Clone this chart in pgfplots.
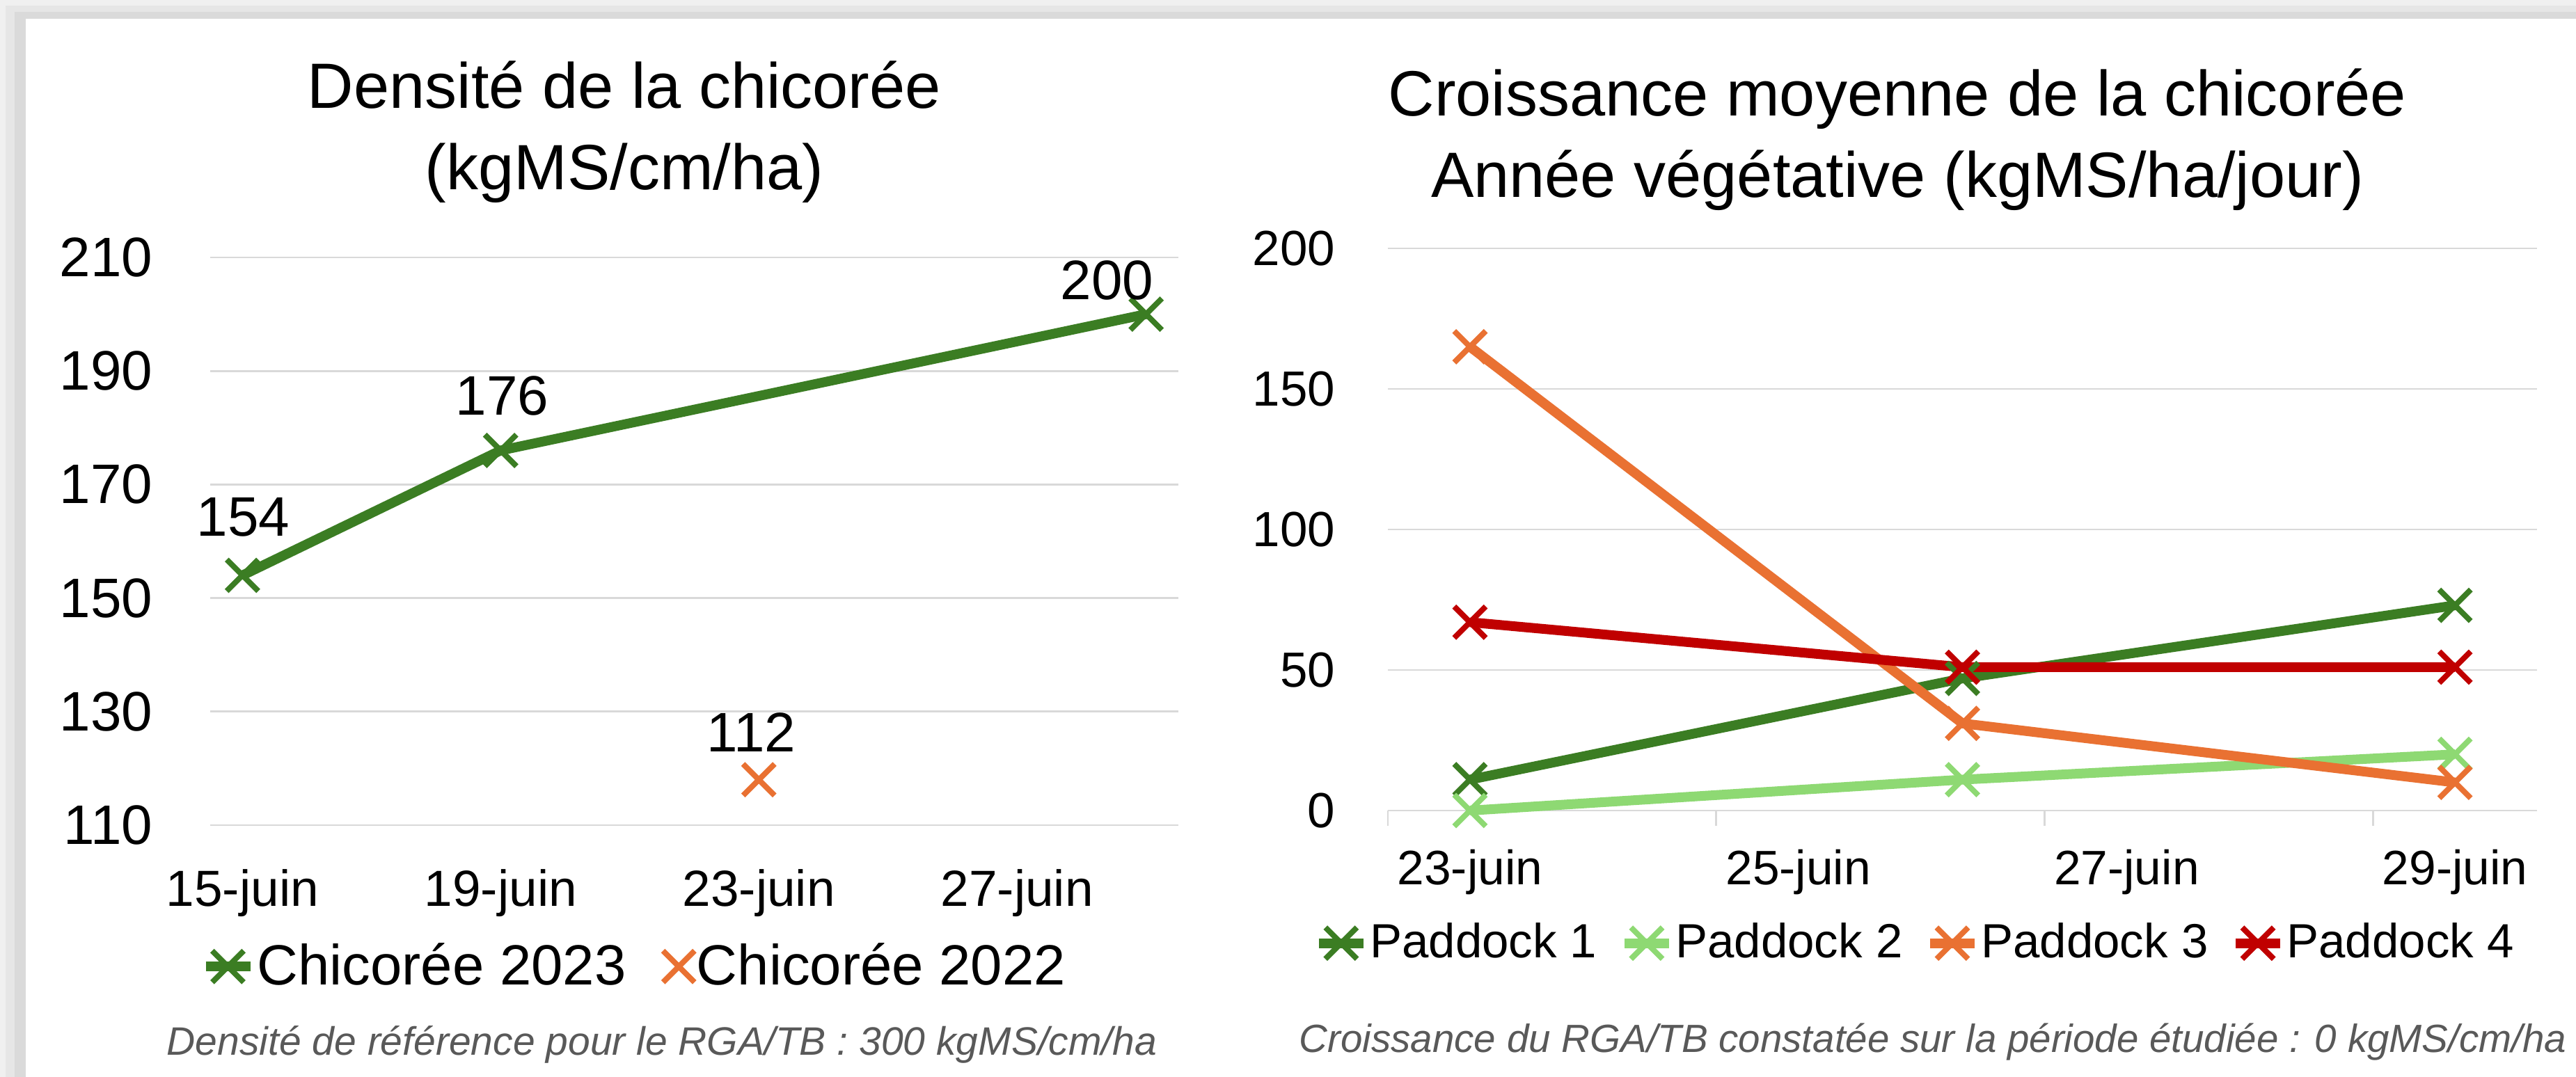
\documentclass[border=0pt]{standalone}
\usepackage{fontspec}
\setmainfont{Liberation Sans}
\usepackage{pgfplots}
\pgfplotsset{compat=1.18}
\definecolor{gA}{HTML}{3B7D23}
\definecolor{gB}{HTML}{8ED973}
\definecolor{orA}{HTML}{E97132}
\definecolor{rdA}{HTML}{C00000}
\definecolor{gridc}{HTML}{D9D9D9}
\definecolor{fnc}{HTML}{595959}
\definecolor{bgA}{HTML}{F0F0F0}
\definecolor{bgB}{HTML}{E6E6E6}
\definecolor{bgC}{HTML}{DADADA}
\pgfplotsset{
  myleg/.style={legend image code/.code={\draw[mark repeat=2,mark phase=2,##1] plot coordinates {(0pt,0pt) (6.4pt,0pt) (12.8pt,0pt)};}},
  common/.style={
    scale only axis, clip=false,
    axis line style={draw=none},
    ymajorgrids, major grid style={gridc, line width=0.55pt},
    major tick length=0pt, xtick pos=bottom, ytick pos=left,
    /pgf/number format/assume math mode=true,
    yticklabel style={anchor=east, inner sep=0pt},
    xticklabel style={anchor=base, inner sep=0pt},
    myleg,
  },
  ser/.style={color=#1, line width=2.8pt, line join=round, mark=x, mark size=6.4pt, mark options={line width=1.6pt, solid}},
}
\begin{document}
\begin{tikzpicture}[x=1pt,y=1pt]
\useasboundingbox (0,0) rectangle (740.2,-309.6);
\fill[bgA] (0,0) rectangle (740.2,-309.6);
\fill[bgB] (1.6,-1.6) rectangle (740.2,-309.6);
\fill[bgC] (4.2,-3.4) rectangle (740.2,-309.6);
\fill[white] (7.4,-5.4) rectangle (740.2,-309.6);

% ---------- left chart ----------
\node[anchor=base, font=\fontsize{18.4}{22}\selectfont] at (179.4,-31.2) {Densité de la chicorée};
\node[anchor=base, font=\fontsize{18.4}{22}\selectfont] at (179.4,-54.6) {(kgMS/cm/ha)};
\begin{axis}[common,
  at={(60.4pt,-237.2pt)}, anchor=south west,
  width=278.2pt, height=163.2pt,
  xmin=14.5, xmax=29.5, ymin=110, ymax=210,
  ytick={110,130,150,170,190,210},
  xtick={15,19,23,27}, xticklabels={15-juin,19-juin,23-juin,27-juin},
  yticklabel style={font=\fontsize{16}{19}\selectfont, xshift=-16.4pt},
  xticklabel style={font=\fontsize{14.6}{17}\selectfont, yshift=-23.2pt},
  legend style={at={(0.438,-0.249)}, anchor=center, draw=none, fill=none,
    legend columns=2, font=\fontsize{16.3}{19}\selectfont,
    /tikz/every even column/.append style={column sep=10pt},
    nodes={inner sep=0.6pt}},
]
\addplot[ser=gA, nodes near coords, point meta=explicit symbolic,
  visualization depends on={value \thisrow{dx}\as\dx},
  visualization depends on={value \thisrow{dy}\as\dy},
  nodes near coords style={anchor=center, text=black, font=\fontsize{16}{19}\selectfont, xshift=\dx*1pt, yshift=\dy*1pt}]
  table[x=x, y=y, meta=lab] {
x y lab dx dy
15 154 154 0.2 16.8
19 176 176 0.4 15.6
29 200 200 -11.2 9.8
};
\addlegendentry{Chicorée 2023}
\addplot[ser=orA, only marks, myleg,
  nodes near coords, point meta=explicit symbolic,
  nodes near coords style={anchor=center, text=black, font=\fontsize{16}{19}\selectfont, xshift=-2.2pt, yshift=13.6pt}]
  table[x=x, y=y, meta=lab] {
x y lab
23 118 112
};
\addlegendentry{Chicorée 2022}
\end{axis}
\node[font=\fontsize{11.4}{13}\selectfont\itshape, text=fnc] at (190.2,-300.2) {Densité de référence pour le RGA/TB : 300 kgMS/cm/ha};

% ---------- right chart ----------
\node[anchor=base, font=\fontsize{18.4}{22}\selectfont] at (545.2,-33.4) {Croissance moyenne de la chicorée};
\node[anchor=base, font=\fontsize{18.4}{22}\selectfont] at (545.2,-56.8) {Année végétative (kgMS/ha/jour)};
\begin{axis}[common,
  at={(398.8pt,-233pt)}, anchor=south west,
  width=330.2pt, height=161.6pt,
  xmin=22.5, xmax=29.5, ymin=0, ymax=200,
  ytick={0,50,100,150,200},
  xtick={23,25,27,29}, xticklabels={23-juin,25-juin,27-juin,29-juin},
  extra x ticks={22.5,24.5,26.5,28.5}, extra x tick labels={},
  extra x tick style={major tick length=4.4pt, tick align=outside, xmajorgrids=false,
    tick style={gridc, line width=0.55pt}},
  yticklabel style={font=\fontsize{14.2}{17}\selectfont, xshift=-15pt},
  xticklabel style={font=\fontsize{13.9}{16}\selectfont, yshift=-21.3pt},
  legend style={at={(0.4585,-0.236)}, anchor=center, draw=none, fill=none,
    legend columns=4, font=\fontsize{13.8}{16}\selectfont,
    /tikz/every even column/.append style={column sep=6pt},
    nodes={inner sep=0.5pt}},
]
\addplot[ser=gA] table {
x y
23 11
26 47
29 73
};
\addlegendentry{Paddock 1}
\addplot[ser=gB] table {
x y
23 0
26 11
29 20
};
\addlegendentry{Paddock 2}
\addplot[ser=orA] table {
x y
23 165
26 31
29 10
};
\addlegendentry{Paddock 3}
\addplot[ser=rdA] table {
x y
23 67
26 51
29 51
};
\addlegendentry{Paddock 4}
\end{axis}
\node[font=\fontsize{11.3}{13}\selectfont\itshape, text=fnc] at (555.4,-299.6) {Croissance du RGA/TB constatée sur la période étudiée : 0 kgMS/cm/ha};
\end{tikzpicture}
\end{document}
